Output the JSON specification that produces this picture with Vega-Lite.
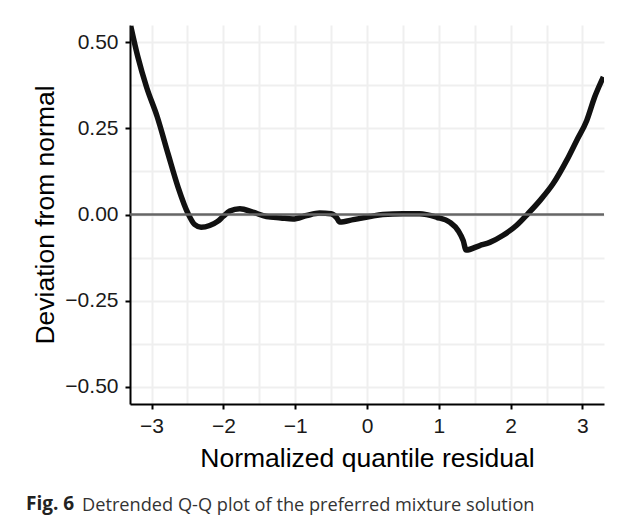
{
  "$schema": "https://vega.github.io/schema/vega-lite/v6.json",
  "padding": {"left": 26, "top": 25, "right": 0, "bottom": 8},
  "background": "white",
  "title": {"text": "Detrended Q-Q plot of the preferred mixture solution", "orient": "bottom", "anchor": "start", "frame": "bounds", "dx": 56, "offset": -17, "font": "Open Sans", "fontSize": 18.2, "fontWeight": "normal", "color": "#333333"},
  "vconcat": [
    {
      "width": 474,
      "height": 379,
      "title": {"text": "Fig. 6", "orient": "bottom", "anchor": "start", "frame": "group", "dx": -104, "dy": 5, "offset": 18, "font": "Open Sans", "fontSize": 19, "fontWeight": "bold", "color": "#222222"},
      "layer": [
        {
          "data": {"values": [
            {"x": -3.29, "y": 0.547},
            {"x": -3.19, "y": 0.457},
            {"x": -3.07, "y": 0.370},
            {"x": -2.92, "y": 0.283},
            {"x": -2.77, "y": 0.176},
            {"x": -2.63, "y": 0.079},
            {"x": -2.49, "y": 0.002},
            {"x": -2.40, "y": -0.029},
            {"x": -2.31, "y": -0.037},
            {"x": -2.19, "y": -0.032},
            {"x": -2.08, "y": -0.020},
            {"x": -2.00, "y": -0.005},
            {"x": -1.91, "y": 0.010},
            {"x": -1.77, "y": 0.017},
            {"x": -1.59, "y": 0.007},
            {"x": -1.40, "y": -0.006},
            {"x": -1.20, "y": -0.010},
            {"x": -1.03, "y": -0.013},
            {"x": -0.84, "y": -0.003},
            {"x": -0.66, "y": 0.004},
            {"x": -0.50, "y": 0.002},
            {"x": -0.42, "y": -0.010},
            {"x": -0.38, "y": -0.022},
            {"x": -0.19, "y": -0.015},
            {"x": 0.04, "y": -0.006},
            {"x": 0.22, "y": 0.000},
            {"x": 0.50, "y": 0.002},
            {"x": 0.73, "y": 0.002},
            {"x": 0.97, "y": -0.008},
            {"x": 1.15, "y": -0.022},
            {"x": 1.27, "y": -0.047},
            {"x": 1.34, "y": -0.076},
            {"x": 1.38, "y": -0.103},
            {"x": 1.57, "y": -0.090},
            {"x": 1.71, "y": -0.081},
            {"x": 1.89, "y": -0.061},
            {"x": 2.08, "y": -0.032},
            {"x": 2.24, "y": 0.002},
            {"x": 2.41, "y": 0.041},
            {"x": 2.59, "y": 0.089},
            {"x": 2.78, "y": 0.157},
            {"x": 2.92, "y": 0.215},
            {"x": 3.06, "y": 0.273},
            {"x": 3.17, "y": 0.341},
            {"x": 3.29, "y": 0.399}
          ]},
          "mark": {"type": "line", "color": "#111111", "strokeWidth": 5.5, "interpolate": "monotone", "clip": true},
          "encoding": {
            "x": {
              "field": "x", "type": "quantitative",
              "scale": {"domain": [-3.3, 3.3], "nice": false, "zero": false},
              "axis": {
                "title": "Normalized quantile residual",
                "values": [-3, -2.5, -2, -1.5, -1, -0.5, 0, 0.5, 1, 1.5, 2, 2.5, 3],
                "labelExpr": "datum.value % 1 === 0 ? format(datum.value, 'd') : ''",
                "tickOpacity": {"condition": {"test": "datum.value % 1 === 0", "value": 1}, "value": 0},
                "labelFont": "Liberation Sans",
                "labelFontSize": 21,
                "labelColor": "#1a1a1a",
                "labelPadding": 6,
                "titleFont": "Liberation Sans",
                "titleFontSize": 26.5,
                "titleFontWeight": "normal",
                "titleColor": "#000000",
                "titlePadding": 9
              }
            },
            "y": {
              "field": "y", "type": "quantitative",
              "scale": {"domain": [-0.55, 0.55], "nice": false, "zero": false},
              "axis": {
                "title": "Deviation from normal",
                "values": [-0.5, -0.375, -0.25, -0.125, 0, 0.125, 0.25, 0.375, 0.5],
                "labelExpr": "round(datum.value * 4) === datum.value * 4 ? format(datum.value, '.2f') : ''",
                "tickOpacity": {"condition": {"test": "round(datum.value * 4) === datum.value * 4", "value": 1}, "value": 0},
                "labelFont": "Liberation Sans",
                "labelFontSize": 21,
                "labelColor": "#1a1a1a",
                "labelPadding": 7,
                "titleFont": "Liberation Sans",
                "titleFontSize": 26.5,
                "titleFontWeight": "normal",
                "titleColor": "#000000",
                "titlePadding": 5
              }
            }
          }
        },
        {
          "data": {"values": [{"ref": 0}]},
          "mark": {"type": "rule", "color": "#666666", "strokeWidth": 2.5},
          "encoding": {"y": {"field": "ref", "type": "quantitative"}}
        }
      ]
    }
  ],
  "config": {
    "view": {"stroke": null},
    "axis": {
      "grid": true,
      "gridColor": "#efefef",
      "gridWidth": 2,
      "domainColor": "#000000",
      "domainWidth": 2,
      "tickColor": "#000000",
      "tickWidth": 2,
      "tickSize": 5
    }
  }
}
